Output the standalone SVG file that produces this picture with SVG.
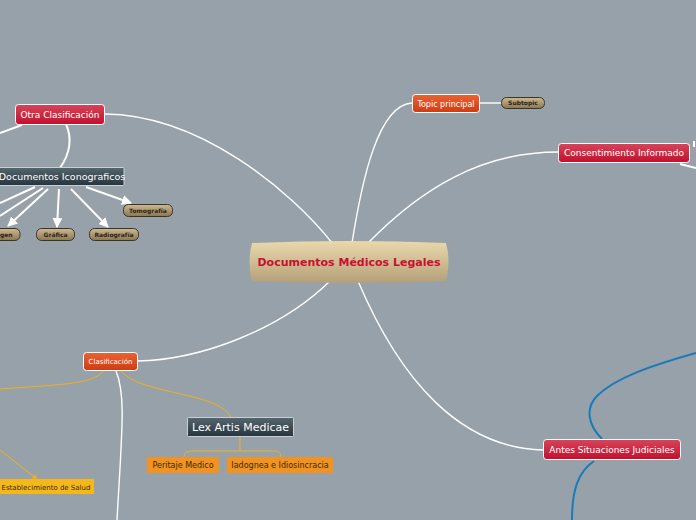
<svg xmlns="http://www.w3.org/2000/svg" width="696" height="520" viewBox="0 0 696 520">
<defs>
<linearGradient id="gCentral" x1="0" y1="0" x2="0" y2="1"><stop offset="0" stop-color="#ead8ad"/><stop offset="1" stop-color="#b4a078"/></linearGradient>
<linearGradient id="gRed" x1="0" y1="0" x2="0" y2="1"><stop offset="0" stop-color="#d8445a"/><stop offset="1" stop-color="#c0102e"/></linearGradient>
<linearGradient id="gOrange" x1="0" y1="0" x2="0" y2="1"><stop offset="0" stop-color="#ec6234"/><stop offset="1" stop-color="#cc3c12"/></linearGradient>
<linearGradient id="gSlate" x1="0" y1="0" x2="0" y2="1"><stop offset="0" stop-color="#56666f"/><stop offset="1" stop-color="#26343d"/></linearGradient>
<linearGradient id="gBrown" x1="0" y1="0" x2="0" y2="1"><stop offset="0" stop-color="#cdb990"/><stop offset="1" stop-color="#8c7652"/></linearGradient>
<marker id="ah" viewBox="0 0 10 10" refX="9" refY="5" markerWidth="5" markerHeight="5" orient="auto"><path d="M0 0 L10 5 L0 10 z" fill="#ffffff"/></marker>
<marker id="ahy" viewBox="0 0 10 10" refX="9" refY="5" markerWidth="5" markerHeight="5" orient="auto"><path d="M0 0 L10 5 L0 10 z" fill="#f0b21a"/></marker>
</defs>
<style>
text{font-family:"DejaVu Sans","Liberation Sans",sans-serif}
.w{fill:none;stroke:#ffffff;stroke-width:1.4}
.wa{fill:none;stroke:#ffffff;stroke-width:2}
.y{fill:none;stroke:#f0b21a;stroke-width:1}
.b{fill:none;stroke:#1a7abb;stroke-width:2}
.red{fill:url(#gRed);stroke:#ffffff;stroke-width:1}
.org{fill:url(#gOrange);stroke:#ffffff;stroke-width:1}
.slate{fill:url(#gSlate);stroke:#c8d0d6;stroke-width:1}
.brn{fill:url(#gBrown);stroke:#3c3428;stroke-width:1}
.lt{fill:#ffffff}
.sm{fill:#2a2418;font-size:6px;font-weight:bold}
.ylw{fill:#f29220}
</style>
<rect width="696" height="520" fill="#97a1a9"/>
<g id="connectors">
<path class="w" d="M333 244 C290 190 200 115 105 114"/>
<path class="w" d="M352 243 C362 180 378 105 412 103"/>
<path class="w" d="M368 243 C420 190 480 152 558 152"/>
<path class="w" d="M330 281 C280 330 200 360 137 361"/>
<path class="w" d="M358 281 C400 380 460 448 543 450"/>
<path class="w" d="M480 103 L501 103"/>
<path class="wa" d="M22 125 L0 133"/>
<path class="wa" d="M66 124 C73 140 69 155 60 168"/>
<path class="wa" d="M35 187 L0 203"/>
<path class="wa" d="M43 188 L0 216"/>
<path class="wa" d="M48 189 L8 226" marker-end="url(#ah)"/>
<path class="wa" d="M59 189 L57 227" marker-end="url(#ah)"/>
<path class="wa" d="M71 189 L108 227" marker-end="url(#ah)"/>
<path class="wa" d="M86 187 L131 203" marker-end="url(#ah)"/>
<path class="wa" d="M694 141 L694 147"/>
<path class="wa" d="M680 164 L696 168"/>
<path class="y" d="M103 371 C95 385 50 385 0 389"/>
<path class="y" d="M121 371 C140 395 222 392 231 418"/>
<path class="w" d="M116 371 C126 395 122 430 117 520"/>
<path class="y" d="M0 450 L37 479" marker-end="url(#ahy)"/>
<path class="y" d="M240 437 L240 451 M184 458 C184 453 186 451 192 451 L274 451 C279 451 281 453 281 458"/>
<path class="b" d="M602 439 C588 425 585 408 597 396 C615 378 650 366 696 353"/>
<path class="b" d="M594 461 C578 472 572 490 572 520"/>
</g>
<g id="central">
<path d="M252 243 Q349 239 446 243 Q451 262 446 281 Q349 285 252 281 Q247 262 252 243 Z" fill="url(#gCentral)"/>
<text x="349" y="266" text-anchor="middle" font-size="11" font-weight="bold" fill="#c8102e">Documentos Médicos Legales</text>
</g>
<g id="otra"><rect class="red" x="15.5" y="104.5" width="89" height="20" rx="3"/><text class="lt" x="60" y="118" text-anchor="middle" font-size="9">Otra Clasificación</text></g>
<g id="iconograficos"><rect class="slate" x="-6" y="167.5" width="130" height="18" rx="1"/><text class="lt" x="62" y="180" text-anchor="middle" font-size="9.5">Documentos Iconograficos</text></g>
<g id="imagen"><rect class="brn" x="-20" y="228.5" width="40" height="12" rx="5"/><text class="sm" x="0" y="237" text-anchor="middle">Imagen</text></g>
<g id="grafica"><rect class="brn" x="36.5" y="228.5" width="38" height="12" rx="5"/><text class="sm" x="55.5" y="237" text-anchor="middle">Gráfica</text></g>
<g id="radiografia"><rect class="brn" x="89.5" y="228.5" width="49" height="12" rx="5"/><text class="sm" x="114" y="237" text-anchor="middle">Radiografía</text></g>
<g id="tomografia"><rect class="brn" x="123.5" y="204.5" width="49" height="12" rx="5"/><text class="sm" x="148" y="213" text-anchor="middle">Tomografía</text></g>
<g id="topic"><rect class="org" x="412.5" y="94.5" width="67" height="18" rx="3"/><text class="lt" x="446" y="106.5" text-anchor="middle" font-size="8">Topic principal</text></g>
<g id="subtopic"><rect class="brn" x="501.5" y="97.5" width="43" height="11" rx="5"/><text class="sm" x="523" y="105.3" text-anchor="middle">Subtopic</text></g>
<g id="consentimiento"><rect class="red" x="558.5" y="143.5" width="131" height="19" rx="3"/><text class="lt" x="624" y="156.3" text-anchor="middle" font-size="9">Consentimiento Informado</text></g>
<g id="clasificacion"><rect class="org" x="83.5" y="352.5" width="54" height="18" rx="3"/><text class="lt" x="110.5" y="364.3" text-anchor="middle" font-size="7">Clasificación</text></g>
<g id="lexartis"><rect class="slate" x="187.5" y="417.5" width="106" height="19" rx="1"/><text class="lt" x="240.5" y="431" text-anchor="middle" font-size="11">Lex Artis Medicae</text></g>
<g id="peritaje"><rect class="ylw" x="147" y="457" width="72" height="16"/><text x="183" y="468" text-anchor="middle" font-size="8" fill="#3a2a10">Peritaje Medico</text></g>
<g id="iadognea"><rect class="ylw" x="227" y="457" width="106" height="16"/><text x="280" y="468" text-anchor="middle" font-size="8" fill="#3a2a10">Iadognea e Idiosincracia</text></g>
<g id="establecimiento"><rect x="-2" y="479" width="96" height="15" fill="#f5b81a"/><text x="46" y="489.5" text-anchor="middle" font-size="7" fill="#3a2a10">Establecimiento de Salud</text></g>
<g id="antes"><rect class="red" x="543.5" y="439.5" width="137" height="20" rx="3"/><text class="lt" x="612" y="453" text-anchor="middle" font-size="9">Antes Situaciones Judiciales</text></g>
</svg>
